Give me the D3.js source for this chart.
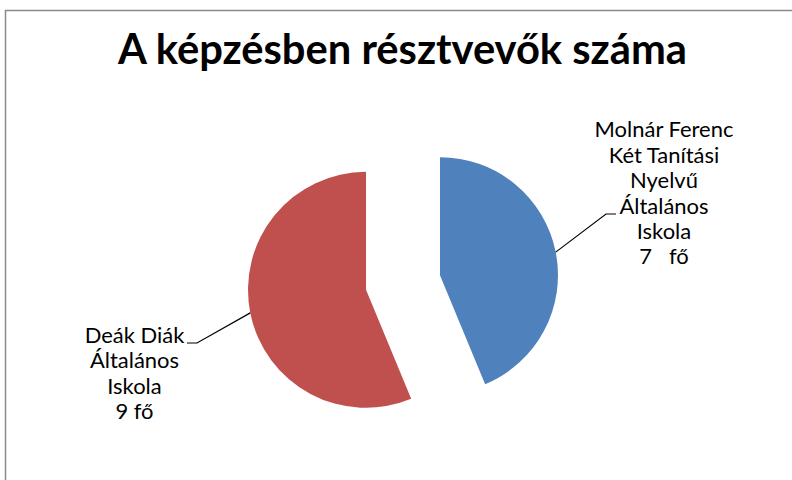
<!DOCTYPE html>
<html>
<head>
<meta charset="utf-8">
<script src="https://cdn.jsdelivr.net/npm/d3@7"></script>
<style>
  html, body { margin: 0; padding: 0; background: #ffffff; }
  svg { display: block; }
</style>
</head>
<body>
<svg id="chart" width="792" height="480"></svg>
<script>
// ---- data ----
const title = "A képzésben résztvevők száma";
const categories = ["Molnár Ferenc Két Tanítási Nyelvű Általános Iskola", "Deák Diák Általános Iskola"];
const values = [7, 9];
const labelLines = [
  ["Molnár Ferenc", "Két Tanítási", "Nyelvű", "Általános", "Iskola", "7   fő"],
  ["Deák Diák", "Általános", "Iskola", "9 fő"]
];
const colors = ["#4F81BD", "#C0504D"];

// ---- layout ----
const W = 792, H = 480;
const cx = 403, cy = 282.5, R = 118, explode = 37.7;
const labelFont = "Lato, 'Open Sans', sans-serif";
const labelLayout = [
  { x: 664, y: 137.3, elbow: [606, 214], end: [616, 214] },
  { x: 134.5, y: 342.7, elbow: [197, 343], end: [187, 343] }
];
const lineStep = 25.4;

const svg = d3.select("#chart");

// outer chart border
svg.append("rect")
  .attr("x", 5.5).attr("y", 10.5)
  .attr("width", W + 20).attr("height", H + 20)
  .attr("fill", "none").attr("stroke", "#8a8a8a").attr("stroke-width", 1.5);

// title, fitted to reference width
const titleText = svg.append("text")
  .attr("x", 402.5).attr("y", 64)
  .attr("text-anchor", "middle")
  .attr("font-family", labelFont)
  .attr("font-weight", "bold")
  .attr("font-size", 40)
  .attr("fill", "#000")
  .text(title);
{
  const w = titleText.node().getComputedTextLength();
  titleText.attr("font-size", 40 * 569 / w);
}

const data = categories.map((c, i) => ({ name: c, value: values[i], i }));
const pie = d3.pie().sort(null).value(d => d.value).startAngle(0).endAngle(2 * Math.PI);
const arcs = pie(data);
const arc = d3.arc().innerRadius(0).outerRadius(R);
const edge = d3.arc().innerRadius(R).outerRadius(R);

const g = svg.append("g").attr("transform", `translate(${cx},${cy})`);

arcs.forEach(a => {
  const mid = (a.startAngle + a.endAngle) / 2;
  const dx = Math.sin(mid) * explode, dy = -Math.cos(mid) * explode;
  g.append("path")
    .attr("d", arc(a))
    .attr("transform", `translate(${dx},${dy})`)
    .attr("fill", colors[a.data.i]);
  // leader line
  const p = [Math.sin(mid) * R + dx + cx, -Math.cos(mid) * R + dy + cy];
  const L = labelLayout[a.data.i];
  svg.append("polyline")
    .attr("points", [p, L.elbow, L.end].map(q => q.join(",")).join(" "))
    .attr("fill", "none").attr("stroke", "#000").attr("stroke-width", 1.2);
});

// labels
const labelGroups = labelLines.map((lines, i) => {
  const L = labelLayout[i];
  const t = svg.append("text")
    .attr("text-anchor", "middle")
    .attr("font-family", labelFont)
    .attr("font-size", 20)
    .attr("fill", "#000")
    .style("white-space", "pre");
  lines.forEach((ln, k) => {
    t.append("tspan").attr("x", L.x).attr("y", L.y + k * lineStep).text(ln);
  });
  return t;
});
// fit label font so "Molnár Ferenc" matches its reference width (139px)
{
  const probe = svg.append("text").attr("font-family", labelFont).attr("font-size", 20).text(labelLines[0][0]);
  const w = probe.node().getComputedTextLength();
  probe.remove();
  const fs = 20 * 139 / w;
  labelGroups.forEach(t => t.attr("font-size", fs));
}
</script>
</body>
</html>
